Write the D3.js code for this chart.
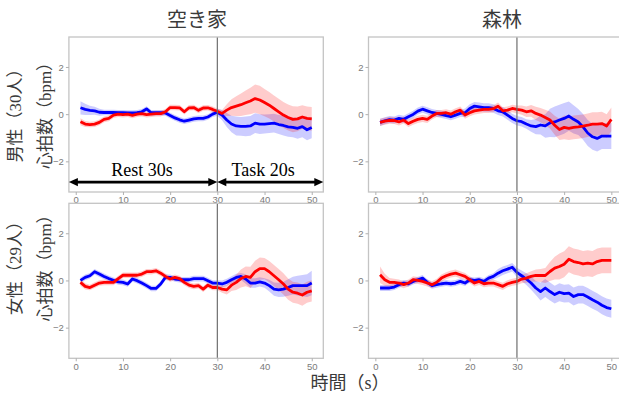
<!DOCTYPE html>
<html><head><meta charset="utf-8">
<script src="https://cdn.jsdelivr.net/npm/d3@7"></script>
<style>body{margin:0;background:#fff}</style>
</head><body><svg id="c" width="619" height="394"></svg>
<script>
// ---------- data ----------
const seconds = d3.range(1, 51);
const colTitles = ["空き家", "森林"];
const rowLabels = [["男性（30人）", "心拍数（bpm）"], ["女性（29人）", "心拍数（bpm）"]];
const xAxisTitle = "時間（s）";
const xTicks = [0, 10, 20, 30, 40, 50];
const yTicks = [-2, 0, 2];
const phaseLabels = ["Rest 30s", "Task 20s"];
const phaseSplit = 30;

// 空き家 / 男性
const emptyMaleRed = [-0.32,-0.42,-0.44,-0.42,-0.35,-0.22,-0.18,-0.04,0.0,-0.02,0.0,-0.05,0.0,0.02,-0.02,0.0,0.02,0.02,0.1,0.28,0.28,0.27,0.1,0.27,0.28,0.16,0.26,0.27,0.2,0.12,0.03,0.17,0.28,0.34,0.4,0.48,0.56,0.66,0.6,0.49,0.38,0.24,0.1,-0.04,-0.14,-0.22,-0.2,-0.12,-0.18,-0.2];
const emptyMaleRedSe = [0.15,0.13,0.12,0.12,0.12,0.12,0.12,0.12,0.12,0.12,0.12,0.12,0.12,0.12,0.12,0.12,0.12,0.12,0.12,0.12,0.12,0.12,0.12,0.12,0.12,0.12,0.12,0.12,0.12,0.12,0.15,0.25,0.35,0.42,0.48,0.52,0.56,0.6,0.6,0.58,0.56,0.55,0.55,0.55,0.55,0.55,0.52,0.5,0.5,0.5];
const emptyMaleBlue = [0.27,0.2,0.16,0.14,0.08,0.07,0.07,0.07,0.06,0.06,0.05,0.05,0.06,0.1,0.22,0.06,0.06,0.06,0.05,-0.06,-0.16,-0.24,-0.3,-0.25,-0.2,-0.18,-0.18,-0.12,0.0,0.08,-0.04,-0.25,-0.42,-0.5,-0.52,-0.52,-0.5,-0.38,-0.42,-0.42,-0.4,-0.38,-0.44,-0.48,-0.54,-0.56,-0.6,-0.53,-0.66,-0.57];
const emptyMaleBlueSe = [0.28,0.24,0.2,0.17,0.15,0.12,0.12,0.12,0.12,0.12,0.12,0.12,0.12,0.12,0.12,0.12,0.12,0.12,0.12,0.12,0.12,0.12,0.12,0.12,0.12,0.12,0.12,0.12,0.12,0.15,0.22,0.3,0.35,0.4,0.4,0.42,0.42,0.42,0.42,0.4,0.4,0.4,0.4,0.42,0.42,0.42,0.44,0.45,0.45,0.45];

// 森林 / 男性
const forestMaleRed = [-0.35,-0.3,-0.26,-0.27,-0.33,-0.25,-0.4,-0.3,-0.22,-0.18,-0.22,-0.08,0.03,0.03,0.06,0.0,0.1,0.17,-0.04,0.06,0.14,0.17,0.2,0.2,0.23,0.34,0.14,0.17,0.24,0.2,0.17,0.1,0.14,0.03,-0.04,-0.14,-0.25,-0.47,-0.65,-0.56,-0.6,-0.56,-0.54,-0.51,-0.47,-0.42,-0.42,-0.4,-0.5,-0.22];
const forestMaleRedSe = [0.15,0.15,0.15,0.15,0.15,0.15,0.15,0.15,0.15,0.15,0.15,0.15,0.15,0.15,0.15,0.15,0.15,0.15,0.15,0.15,0.15,0.15,0.15,0.15,0.15,0.15,0.15,0.15,0.16,0.17,0.2,0.22,0.25,0.28,0.3,0.33,0.36,0.4,0.45,0.5,0.5,0.5,0.5,0.5,0.5,0.5,0.5,0.5,0.5,0.5];
const forestMaleBlue = [-0.35,-0.28,-0.23,-0.25,-0.18,-0.22,-0.11,-0.01,0.13,0.21,0.14,0.07,0.03,-0.01,-0.06,-0.11,-0.04,0.03,0.06,0.24,0.34,0.31,0.28,0.28,0.24,0.14,0.1,-0.04,-0.18,-0.28,-0.32,-0.42,-0.5,-0.53,-0.46,-0.5,-0.37,-0.33,-0.25,-0.18,-0.08,-0.22,-0.33,-0.54,-0.8,-0.96,-1.03,-0.93,-0.93,-0.93];
const forestMaleBlueSe = [0.15,0.15,0.15,0.15,0.15,0.15,0.15,0.15,0.15,0.15,0.15,0.15,0.15,0.15,0.15,0.15,0.15,0.15,0.18,0.18,0.18,0.18,0.18,0.18,0.18,0.18,0.2,0.2,0.2,0.2,0.2,0.2,0.25,0.32,0.4,0.5,0.6,0.65,0.65,0.65,0.62,0.6,0.55,0.55,0.55,0.55,0.55,0.55,0.55,0.55];

// 空き家 / 女性
const emptyFemaleRed = [-0.08,-0.25,-0.3,-0.2,-0.11,-0.08,-0.08,-0.08,0.08,0.22,0.22,0.22,0.22,0.27,0.37,0.37,0.41,0.31,0.17,0.06,0.13,0.08,-0.08,-0.2,-0.25,-0.22,-0.37,-0.2,-0.3,-0.3,-0.37,-0.4,-0.2,-0.08,0.08,0.17,0.13,0.37,0.5,0.5,0.37,0.2,0.03,-0.15,-0.37,-0.5,-0.54,-0.62,-0.5,-0.44];
const emptyFemaleRedSe = [0.15,0.13,0.12,0.12,0.12,0.12,0.12,0.12,0.12,0.12,0.12,0.12,0.12,0.12,0.12,0.12,0.12,0.12,0.12,0.12,0.12,0.12,0.12,0.12,0.12,0.12,0.12,0.12,0.12,0.12,0.15,0.2,0.25,0.32,0.38,0.42,0.45,0.47,0.47,0.45,0.45,0.45,0.45,0.45,0.45,0.45,0.45,0.45,0.45,0.45];
const emptyFemaleBlue = [0.0,0.13,0.2,0.37,0.27,0.17,0.08,0.01,-0.06,-0.08,-0.15,0.06,-0.01,-0.11,-0.22,-0.34,-0.34,-0.15,0.13,0.13,0.06,0.03,0.03,0.03,0.08,0.08,0.08,-0.01,-0.11,-0.11,-0.15,-0.08,0.03,0.13,0.17,0.06,-0.11,-0.11,-0.06,-0.11,-0.22,-0.37,-0.4,-0.37,-0.3,-0.22,-0.22,-0.22,-0.22,-0.11];
const emptyFemaleBlueSe = [0.12,0.12,0.12,0.12,0.12,0.12,0.12,0.12,0.12,0.12,0.12,0.12,0.12,0.12,0.12,0.12,0.12,0.12,0.12,0.12,0.12,0.12,0.12,0.12,0.12,0.12,0.12,0.12,0.12,0.12,0.15,0.15,0.15,0.15,0.15,0.2,0.2,0.2,0.2,0.2,0.25,0.28,0.3,0.32,0.35,0.38,0.42,0.45,0.48,0.52];

// 森林 / 女性
const forestFemaleRed = [0.24,0.03,-0.08,-0.08,-0.11,-0.18,-0.11,0.03,0.0,-0.04,-0.11,-0.18,-0.08,0.1,0.2,0.27,0.31,0.24,0.17,0.03,-0.11,-0.04,-0.14,-0.11,-0.11,-0.18,-0.25,-0.14,-0.08,-0.04,0.06,0.1,0.17,0.21,0.21,0.21,0.38,0.52,0.59,0.69,0.9,0.8,0.76,0.7,0.73,0.7,0.8,0.85,0.85,0.85];
const forestFemaleRedSe = [0.35,0.25,0.18,0.15,0.15,0.15,0.15,0.15,0.15,0.15,0.15,0.15,0.15,0.15,0.15,0.15,0.15,0.15,0.15,0.15,0.15,0.15,0.15,0.15,0.15,0.15,0.15,0.15,0.15,0.15,0.18,0.2,0.22,0.25,0.28,0.32,0.4,0.48,0.55,0.55,0.55,0.55,0.55,0.55,0.55,0.55,0.55,0.55,0.55,0.55];
const forestFemaleBlue = [-0.32,-0.32,-0.32,-0.28,-0.18,-0.11,-0.14,-0.04,0.03,0.1,-0.08,-0.22,-0.18,-0.14,-0.11,-0.14,-0.11,-0.04,-0.11,0.03,0.0,0.03,-0.04,0.1,0.17,0.31,0.41,0.48,0.56,0.34,0.2,0.06,-0.11,-0.32,-0.47,-0.32,-0.47,-0.6,-0.5,-0.56,-0.54,-0.68,-0.6,-0.6,-0.7,-0.82,-0.92,-1.05,-1.15,-1.2];
const forestFemaleBlueSe = [0.13,0.13,0.13,0.13,0.13,0.13,0.13,0.13,0.13,0.13,0.13,0.13,0.13,0.13,0.13,0.13,0.13,0.13,0.13,0.13,0.13,0.13,0.13,0.13,0.13,0.18,0.18,0.18,0.18,0.2,0.22,0.25,0.28,0.3,0.38,0.38,0.38,0.38,0.38,0.38,0.38,0.38,0.38,0.38,0.38,0.38,0.38,0.38,0.38,0.38];

const panels = [
  {row: 0, col: 0, red: emptyMaleRed, redSe: emptyMaleRedSe, blue: emptyMaleBlue, blueSe: emptyMaleBlueSe},
  {row: 0, col: 1, red: forestMaleRed, redSe: forestMaleRedSe, blue: forestMaleBlue, blueSe: forestMaleBlueSe},
  {row: 1, col: 0, red: emptyFemaleRed, redSe: emptyFemaleRedSe, blue: emptyFemaleBlue, blueSe: emptyFemaleBlueSe},
  {row: 1, col: 1, red: forestFemaleRed, redSe: forestFemaleRedSe, blue: forestFemaleBlue, blueSe: forestFemaleBlueSe}
];

// ---------- layout ----------
const svg = d3.select("#c");
const colX = [68.9, 368.5], panelW = 254.4;
const rowY = [37, 203.3], panelH = 155;
const xDomain = [-1.45, 52.45], yDomain = [-3.3, 3.27];
const cjk = "'Liberation Serif','Noto Sans CJK JP',serif";

function xs(c) { return d3.scaleLinear().domain(xDomain).range([colX[c], colX[c] + panelW]); }
function ys(r) { return d3.scaleLinear().domain(yDomain).range([rowY[r] + panelH, rowY[r]]); }

panels.forEach((p, i) => {
  const x = xs(p.col), y = ys(p.row);
  const g = svg.append("g");
  const clipId = "clip" + i;
  svg.append("clipPath").attr("id", clipId).append("rect")
    .attr("x", colX[p.col]).attr("y", rowY[p.row]).attr("width", panelW).attr("height", panelH);
  const plot = g.append("g").attr("clip-path", `url(#${clipId})`);

  const series = [
    {m: p.blue, se: p.blueSe, color: "#0000ff"},
    {m: p.red, se: p.redSe, color: "#ff0000"}
  ];
  series.forEach(s => {
    const pts = seconds.map((t, k) => ({t, m: s.m[k], se: s.se[k]}));
    plot.append("path").datum(pts)
      .attr("d", d3.area().x(d => x(d.t)).y0(d => y(d.m - d.se)).y1(d => y(d.m + d.se)))
      .attr("fill", s.color).attr("fill-opacity", 0.2).attr("stroke", "none");
  });
  series.forEach(s => {
    const pts = seconds.map((t, k) => ({t, m: s.m[k]}));
    plot.append("path").datum(pts)
      .attr("d", d3.line().x(d => x(d.t)).y(d => y(d.m)))
      .attr("fill", "none").attr("stroke", s.color).attr("stroke-width", 2.8)
      .attr("stroke-linejoin", "round");
  });

  // vertical divider at 30 s
  g.append("line")
    .attr("x1", x(phaseSplit)).attr("x2", x(phaseSplit))
    .attr("y1", rowY[p.row]).attr("y2", rowY[p.row] + panelH)
    .attr("stroke", "#6e6e6e").attr("stroke-width", 1.2);

  // border
  g.append("rect").attr("x", colX[p.col]).attr("y", rowY[p.row])
    .attr("width", panelW).attr("height", panelH)
    .attr("fill", "none").attr("stroke", "#c4c4c4").attr("stroke-width", 1.3);

  // axes
  const ay = g.append("g").attr("transform", `translate(${colX[p.col]},0)`)
    .call(d3.axisLeft(y).tickValues(yTicks).tickSize(3).tickPadding(2).tickFormat(d3.format("d")));
  const ax = g.append("g").attr("transform", `translate(0,${rowY[p.row] + panelH})`)
    .call(d3.axisBottom(x).tickValues(xTicks).tickSize(3).tickPadding(1.5).tickFormat(d3.format("d")));
  [ax, ay].forEach(a => {
    a.select(".domain").remove();
    a.selectAll(".tick line").attr("stroke", "#b0b0b0");
    a.selectAll(".tick text").attr("fill", "#7a7a7a")
      .style("font-family", "'Liberation Sans',Arial,sans-serif").style("font-size", "9.5px");
  });
});

// column titles
const titleX = [197, 502];
colTitles.forEach((t, c) => {
  svg.append("text").attr("x", titleX[c]).attr("y", 20)
    .attr("text-anchor", "middle").attr("dominant-baseline", "central")
    .style("font-family", cjk).style("font-size", "20px").attr("fill", "#3a3a3a").text(t);
});

// row labels
const rowLabelY = [111.5, 264];
const rowLabelX = [15.5, 45];
rowLabels.forEach((pair, r) => {
  pair.forEach((t, k) => {
    svg.append("text")
      .attr("transform", `translate(${rowLabelX[k]},${rowLabelY[r]}) rotate(-90)`)
      .attr("text-anchor", "middle").attr("dominant-baseline", "central")
      .style("font-family", cjk).style("font-size", "17px").attr("fill", "#3a3a3a").text(t);
  });
});

// x axis title
svg.append("text").attr("x", 350).attr("y", 383)
  .attr("text-anchor", "middle").attr("dominant-baseline", "central")
  .style("font-family", cjk).style("font-size", "18px").attr("fill", "#3a3a3a").text(xAxisTitle);

// Rest / Task arrows in the first panel
(function() {
  const x = xs(0), y = ys(0);
  const ay = y(-2.88);
  const segs = [[xDomain[0], phaseSplit], [phaseSplit, xDomain[1]]];
  const labelAt = [14.05, 39.7];
  segs.forEach((s, k) => {
    const x0 = x(s[0]), x1 = x(s[1]);
    const head = 9, hh = 4.2;
    svg.append("line").attr("x1", x0 + head - 1).attr("x2", x1 - head + 1)
      .attr("y1", ay).attr("y2", ay).attr("stroke", "#000").attr("stroke-width", 2.6);
    svg.append("path").attr("d", `M${x0},${ay}L${x0 + head},${ay - hh}L${x0 + head},${ay + hh}Z`).attr("fill", "#000");
    svg.append("path").attr("d", `M${x1},${ay}L${x1 - head},${ay - hh}L${x1 - head},${ay + hh}Z`).attr("fill", "#000");
    svg.append("text").attr("x", x(labelAt[k])).attr("y", y(-2.62))
      .attr("text-anchor", "middle")
      .style("font-family", "'Liberation Serif','Times New Roman',serif").style("font-size", "18px")
      .attr("fill", "#000").text(phaseLabels[k]);
  });
})();
</script>
</body></html>
